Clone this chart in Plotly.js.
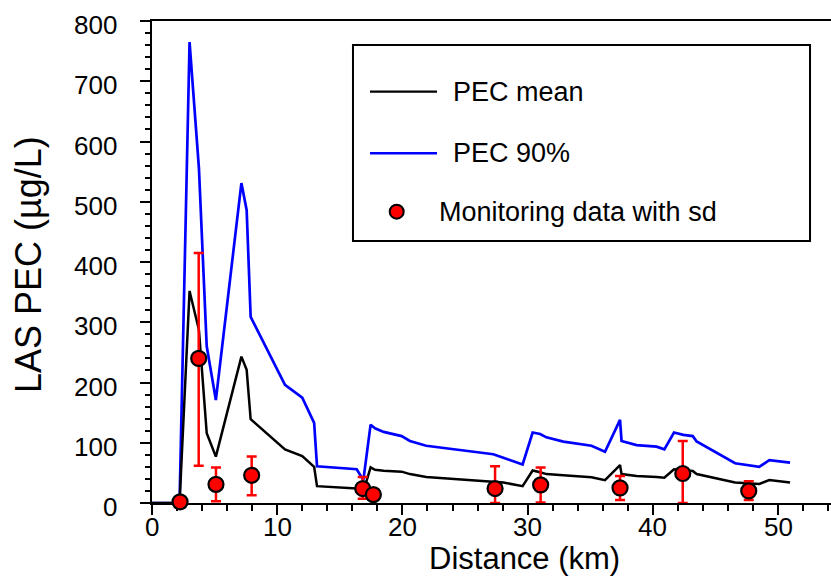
<!DOCTYPE html>
<html>
<head>
<meta charset="utf-8">
<script src="https://cdn.plot.ly/plotly-3.0.1.min.js"></script>
<style>html,body{margin:0;padding:0;background:#fff;}#chart{width:831px;height:577px;}</style>
</head>
<body>
<div id="chart"></div>
<script>
// Model distance points (km)
var distance = [0, 2.2, 3.0, 3.75, 4.37, 5.1, 7.14, 7.56, 7.88, 10.62, 12.0, 12.95, 13.18, 15.0, 16.35, 16.88, 17.46, 17.81, 18.5, 19.94, 20.6, 21.9, 24.87, 27.26, 28.06, 29.6, 30.4, 31.0, 31.5, 32.85, 35.1, 36.18, 37.38, 37.5, 38.7, 40.3, 40.92, 41.69, 42.44, 43.19, 43.5, 46.57, 48.5, 49.3, 50.96];
// PEC mean (µg/L)
var pecMean = [0, 0, 352, 287, 116, 77, 243, 221, 139, 89, 78, 60, 28, 26, 24, 19, 59, 55, 53.6, 52, 48, 43, 39, 35, 34, 28, 54, 51, 48, 46, 42.6, 38, 63, 48, 45, 43, 42, 56, 55, 53, 48, 34, 31.5, 38, 34];
// PEC 90th percentile (µg/L)
var pec90 = [0, 0, 765, 555, 260, 171, 531, 486, 309, 196, 175, 133, 61, 58, 56, 38, 130, 124, 118, 111, 103, 95, 87, 81, 75, 64, 117, 114.5, 109, 102, 95, 85, 138, 103, 96, 93.5, 89, 117, 113, 111, 102, 66, 60, 71, 67];
// Monitoring data
var monDist = [2.24, 3.73, 5.11, 7.96, 16.83, 17.68, 27.4, 31.04, 37.38, 42.39, 47.66];
var monVal = [2, 240, 31, 46, 24, 14, 24, 30, 25, 49, 20];
var monSdPlus = [0, 175, 28, 31, 19, 7, 37, 29, 20, 54, 16];
var monSdMinus = [0, 178, 28, 33, 17, 7, 24, 29, 20, 49, 15];
// Tick labels
var xTickVals = [0, 10, 20, 30, 40, 50];
var yTickVals = [0, 100, 200, 300, 400, 500, 600, 700, 800];
var legendLabels = ["PEC mean", "PEC 90%", "Monitoring data with sd"];
var xTitle = "Distance (km)";
var yTitle = "LAS PEC (µg/L)";

var FONT = "Liberation Sans, Arial, Helvetica, sans-serif";

var traces = [
  {x: distance, y: pec90, mode: "lines", name: legendLabels[1], line: {color: "#0000ff", width: 2.7}, cliponaxis: false},
  {x: distance, y: pecMean, mode: "lines", name: legendLabels[0], line: {color: "#000000", width: 2.5}, cliponaxis: false},
  {x: monDist, y: monVal, mode: "markers", name: legendLabels[2], cliponaxis: false,
   marker: {color: "#ff0000", size: 15, line: {color: "#000000", width: 2.2}},
   error_y: {type: "data", symmetric: false, array: monSdPlus, arrayminus: monSdMinus, color: "#ff0000", thickness: 2.5, width: 5}}
];

// Legend drawn in paper coordinates
var L = {x0: 0.296, x1: 0.9691, y0: 0.5436, y1: 0.9502};
function px(xp){ return (xp - 152) / 679; }
function py(yp){ return (503 - yp) / 482; }
var shapes = [
  {type: "rect", xref: "paper", yref: "paper", x0: L.x0, x1: L.x1, y0: L.y0, y1: L.y1, line: {color: "#000", width: 2}, fillcolor: "#fff", layer: "above"},
  {type: "line", xref: "paper", yref: "paper", x0: px(370), x1: px(437), y0: py(91.7), y1: py(91.7), line: {color: "#000", width: 2.2}, layer: "above"},
  {type: "line", xref: "paper", yref: "paper", x0: px(370), x1: px(437), y0: py(153.3), y1: py(153.3), line: {color: "#0000ff", width: 2.5}, layer: "above"},
  {type: "circle", xref: "paper", yref: "paper", xsizemode: "pixel", ysizemode: "pixel", xanchor: px(396.7), yanchor: py(211.7), x0: -7, x1: 7, y0: -7, y1: 7, fillcolor: "#ff0000", line: {color: "#000", width: 2}, layer: "above"}
];
var tickFont = {family: FONT, size: 26, color: "#000"};
var annotations = [
  {xref: "paper", yref: "paper", x: px(451), y: py(91.7), xanchor: "left", yanchor: "middle", text: legendLabels[0], showarrow: false, font: {family: FONT, size: 27, color: "#000"}},
  {xref: "paper", yref: "paper", x: px(451), y: py(153.3), xanchor: "left", yanchor: "middle", text: legendLabels[1], showarrow: false, font: {family: FONT, size: 27, color: "#000"}},
  {xref: "paper", yref: "paper", x: px(437), y: py(211.7), xanchor: "left", yanchor: "middle", text: legendLabels[2], showarrow: false, font: {family: FONT, size: 27, color: "#000"}},
  {xref: "paper", yref: "paper", x: px(524), y: py(558), xanchor: "center", yanchor: "middle", text: xTitle, showarrow: false, font: {family: FONT, size: 31, color: "#000"}},
  {xref: "paper", yref: "paper", x: px(28), y: py(265), xanchor: "center", yanchor: "middle", textangle: -90, text: yTitle, showarrow: false, font: {family: FONT, size: 36, color: "#000"}}
];
yTickVals.forEach(function(v){
  annotations.push({xref: "paper", yref: "y", x: px(119), y: v, xanchor: "right", yanchor: "middle", yshift: -4, text: String(v), showarrow: false, font: tickFont});
});
xTickVals.forEach(function(v){
  annotations.push({xref: "x", yref: "paper", x: v, y: py(527), xanchor: "center", yanchor: "middle", text: String(v), showarrow: false, font: tickFont});
});

var layout = {
  width: 831, height: 577,
  margin: {l: 152, r: 0, t: 21, b: 74},
  paper_bgcolor: "#fff", plot_bgcolor: "#fff",
  showlegend: false,
  font: {family: FONT, color: "#000"},
  xaxis: {
    range: [0, 54.23], showgrid: false, zeroline: false,
    showline: true, linecolor: "#000", linewidth: 2, mirror: true,
    ticks: "outside", ticklen: 10, tickwidth: 2, tickcolor: "#000",
    tick0: 0, dtick: 10, showticklabels: false,
    minor: {dtick: 2, ticks: "outside", ticklen: 6, tickwidth: 2, tickcolor: "#000"},
    layer: "below traces",
    automargin: false
  },
  yaxis: {
    range: [0, 800], showgrid: false, zeroline: false,
    showline: true, linecolor: "#000", linewidth: 2,
    ticks: "outside", ticklen: 10, tickwidth: 2, tickcolor: "#000",
    tick0: 0, dtick: 100, showticklabels: false,
    minor: {dtick: 20, ticks: "outside", ticklen: 5, tickwidth: 2, tickcolor: "#000"},
    layer: "below traces",
    automargin: false
  },
  shapes: shapes,
  annotations: annotations
};

Plotly.newPlot("chart", traces, layout, {staticPlot: true, displayModeBar: false});
</script>
</body>
</html>
